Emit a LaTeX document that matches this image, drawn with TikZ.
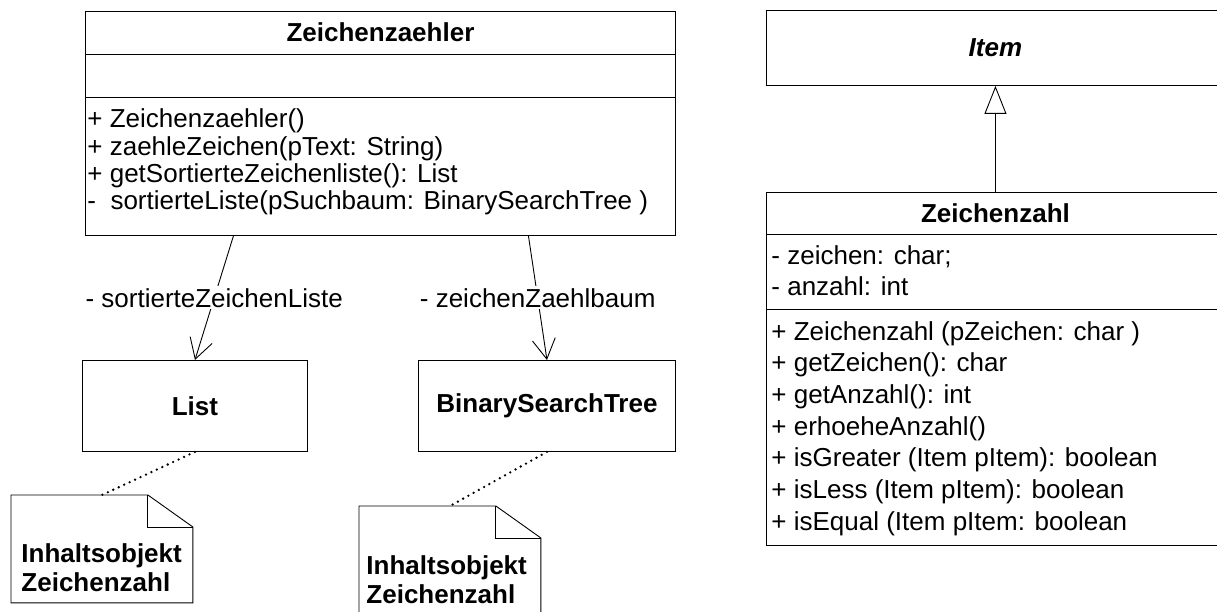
\documentclass[tikz,border=0pt]{standalone}
\usepackage{fontspec}
\setmainfont{Liberation Sans}
\usetikzlibrary{arrows.meta, positioning, calc}
\tikzset{
  every picture/.style={line width=0.9pt},
  umlbox/.style={draw, anchor=north west, inner sep=0pt},
  classname/.style={font=\fontsize{26}{30}\selectfont\bfseries},
  member/.style={anchor=base west, inner sep=0pt, font=\fontsize{26}{30}\selectfont},
  rolelabel/.style={fill=white, inner sep=2pt, font=\fontsize{26}{30}\selectfont},
  notetext/.style={anchor=base west, inner sep=0pt, font=\fontsize{26}{30}\selectfont\bfseries},
  assoc/.style={-{Straight Barb[length=20pt, width=23pt]}},
  inherit/.style={-{Triangle[open, fill=white, length=28pt, width=22pt]}},
  anchorline/.style={line width=2.6pt, line cap=round, dash pattern=on 0pt off 6pt},
}
% folded-corner note outline around a node
\newcommand\dogear[1]{
  \draw (#1.north west) -- ([xshift=-45pt]#1.north east) -- ([yshift=-32pt]#1.north east)
    -- (#1.south east) -- (#1.south west) -- cycle;
  \draw ([xshift=-45pt]#1.north east) |- ([yshift=-32pt]#1.north east);
}

\begin{document}
\begin{tikzpicture}[x=1pt, y=-1pt]
  \useasboundingbox (0,0) rectangle (1217,612);
  \clip (0,0) rectangle (1217,612);

  % class Zeichenzaehler
  \node[umlbox, minimum width=590pt, minimum height=224pt] (zaehler) at (85,11) {};
  \draw ([yshift=-43pt]zaehler.north west) -- ([yshift=-43pt]zaehler.north east);
  \draw ([yshift=-86pt]zaehler.north west) -- ([yshift=-86pt]zaehler.north east);
  \node[classname] (zaehlerT) at ([yshift=-21.5pt]zaehler.north) {Zeichenzaehler};
  \foreach \t [count=\i] in {{+ Zeichenzaehler()}, {+ zaehleZeichen(pText: String)},
      {+ getSortierteZeichenliste(): List},
      {-\ \ sortierteListe(pSuchbaum: BinarySearchTree )}}
    \node[member] (zaehlerOp\i) at (87, 128+27.2*\i-27.2) {\t};

  % List and BinarySearchTree
  \node[umlbox, minimum width=225pt, minimum height=91pt] (list) at (82,360) {};
  \node[classname] (listT) at (list.center) {List};
  \node[umlbox, minimum width=257pt, minimum height=91pt] (bst) at (418,360) {};
  \node[classname] (bstT) at (bst.center) {BinarySearchTree};

  % associations
  \draw[assoc] ([xshift=-147pt]zaehler.south) -- node[rolelabel] {- sortierteZeichenListe} (list.north);
  \draw[assoc] ([xshift=148pt]zaehler.south) -- node[rolelabel] {- zeichenZaehlbaum} (bst.north);

  % notes
  \node[inner sep=0pt, minimum width=181pt, minimum height=107pt, anchor=north west] (note1) at (11,495) {};
  \dogear{note1}
  \node[notetext] (note1T) at (21,562) {Inhaltsobjekt};
  \node[notetext] (note1B) at (21,591) {Zeichenzahl};
  \node[inner sep=0pt, minimum width=181pt, minimum height=107pt, anchor=north west] (note2) at (359,506) {};
  \dogear{note2}
  \node[notetext] (note2T) at (366,574) {Inhaltsobjekt};
  \node[notetext] (note2B) at (366,603) {Zeichenzahl};
  \draw[anchorline] (list.south) -- (note1.north);
  \draw[anchorline] (bst.south) -- (note2.north);

  % class Item
  \node[umlbox, minimum width=458pt, minimum height=75pt] (item) at (766,10) {};
  \node[classname, font=\fontsize{26}{30}\selectfont\bfseries\itshape] (itemT) at (item.center) {Item};

  % class Zeichenzahl
  \node[umlbox, minimum width=458pt, minimum height=353pt] (zahl) at (766,192) {};
  \draw ([yshift=-42pt]zahl.north west) -- ([yshift=-42pt]zahl.north east);
  \draw ([yshift=-117pt]zahl.north west) -- ([yshift=-117pt]zahl.north east);
  \node[classname] (zahlT) at ([yshift=-21pt]zahl.north) {Zeichenzahl};
  \foreach \t [count=\i] in {{- zeichen: char;}, {- anzahl: int}}
    \node[member] (zahlAttr\i) at (771, 265+30*\i-30) {\t};
  \foreach \t [count=\i] in {{+ Zeichenzahl (pZeichen: char )}, {+ getZeichen(): char},
      {+ getAnzahl(): int}, {+ erhoeheAnzahl()}, {+ isGreater (Item pItem): boolean},
      {+ isLess (Item pItem): boolean}, {+ isEqual (Item pItem: boolean}}
    \node[member] (zahlOp\i) at (771, 340+31.7*\i-31.7) {\t};

  \draw[inherit] (zahl.north) -- (item.south);
\end{tikzpicture}
\end{document}
